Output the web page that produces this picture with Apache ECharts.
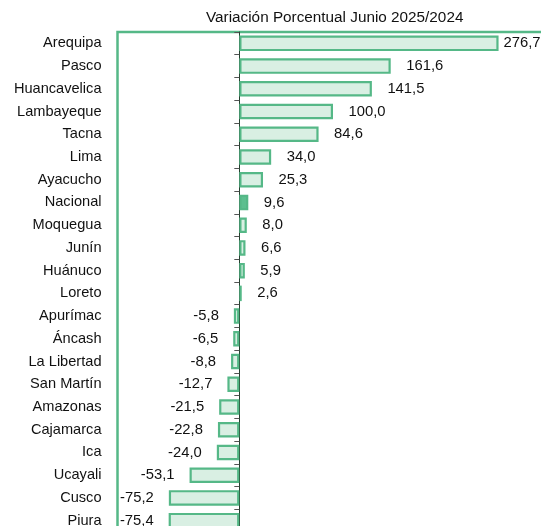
<!DOCTYPE html>
<html>
<head>
<meta charset="utf-8">
<script src="https://cdn.jsdelivr.net/npm/echarts@6/dist/echarts.min.js"></script>
<style>
  html, body { margin: 0; padding: 0; background: #fff; }
  #chart { width: 541px; height: 526px; }
</style>
</head>
<body>
<div id="chart"></div>
<script>
// regiones, de mayor a menor variación
const regiones = ['Arequipa', 'Pasco', 'Huancavelica', 'Lambayeque', 'Tacna', 'Lima', 'Ayacucho',
  'Nacional', 'Moquegua', 'Junín', 'Huánuco', 'Loreto', 'Apurímac', 'Áncash', 'La Libertad',
  'San Martín', 'Amazonas', 'Cajamarca', 'Ica', 'Ucayali', 'Cusco', 'Piura'];
const variacion = [276.7, 161.6, 141.5, 100.0, 84.6, 34.0, 25.3, 9.6, 8.0, 6.6, 5.9, 2.6,
  -5.8, -6.5, -8.8, -12.7, -21.5, -22.8, -24.0, -53.1, -75.2, -75.4];
const destacado = 'Nacional';

const VERDE = '#55b887';
const RELLENO = '#d9efe3';
const FUENTE = '"Liberation Sans", Arial, sans-serif';

const datos = variacion.map(function (v, i) {
  const item = {
    value: v,
    label: {
      position: v >= 0 ? 'right' : 'left',
      distance: i === 0 ? 5 : (v >= 0 ? 15.5 : 15)
    }
  };
  if (regiones[i] === destacado) {
    item.itemStyle = { color: '#5cbf8f' };
  }
  return item;
});

const chart = echarts.init(document.getElementById('chart'));
chart.setOption({
  animation: false,
  title: {
    text: 'Variación Porcentual Junio 2025/2024',
    left: 201,
    top: 5,
    textStyle: { fontFamily: FUENTE, fontSize: 15.3, fontWeight: 'normal', color: '#111' }
  },
  grid: {
    left: 117.5, top: 32, width: 431, height: 500,
    outerBoundsMode: 'none',
    show: true, borderColor: VERDE, borderWidth: 2.5, backgroundColor: 'transparent'
  },
  xAxis: {
    type: 'value', min: -130, max: 330, show: false
  },
  yAxis: [
    {
      type: 'category', data: regiones, inverse: true,
      axisLine: { show: false, onZero: false },
      axisTick: { show: false },
      axisLabel: { margin: 16, fontFamily: FUENTE, fontSize: 14.6, color: '#111' }
    },
    {
      type: 'category', data: regiones, inverse: true, position: 'left',
      axisLine: { show: true, onZero: true, lineStyle: { color: '#24402f', width: 1 } },
      axisTick: { show: true, inside: false, length: 5, lineStyle: { color: '#555' } },
      axisLabel: { show: false }
    }
  ],
  series: [{
    type: 'bar',
    yAxisIndex: 0,
    data: datos,
    barWidth: 15.5,
    itemStyle: { color: RELLENO, borderColor: VERDE, borderWidth: 2.2 },
    label: {
      show: true,
      fontFamily: FUENTE, fontSize: 14.8, color: '#111',
      formatter: function (p) { return p.value.toFixed(1).replace('.', ','); }
    }
  }]
});
</script>
</body>
</html>
